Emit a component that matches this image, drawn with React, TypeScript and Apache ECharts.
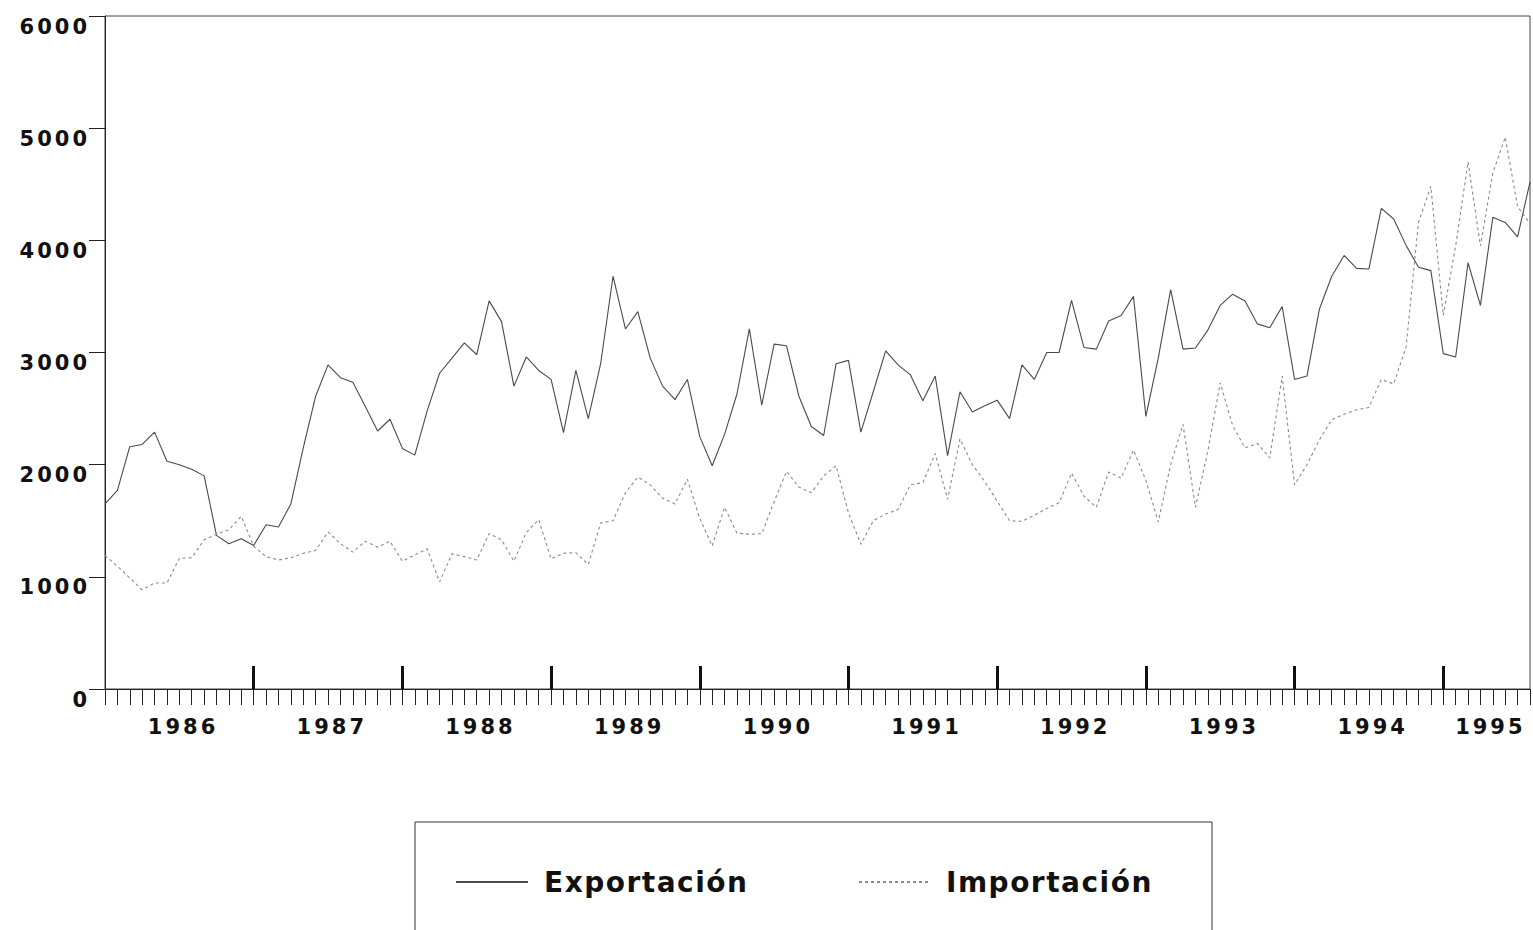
import React, { useEffect, useRef } from "react";
import * as echarts from "echarts";

// Year labels (one per calendar year, Jan 1986 .. Aug 1995 monthly data)
const years = ["1986", "1987", "1988", "1989", "1990", "1991", "1992", "1993", "1994", "1995"];

// Monthly values, Jan 1986 .. Aug 1995 (116 months)
const exportacion = [
  1650, 1770, 2160, 2180, 2290, 2030, 2000, 1960, 1900, 1370, 1295, 1340,
  1280, 1465, 1445, 1650, 2150, 2610, 2890, 2775, 2735, 2520, 2300, 2405,
  2145, 2085, 2480, 2815, 2950, 3085, 2980, 3460, 3275, 2700, 2960, 2840,
  2760, 2285, 2840, 2410, 2900, 3680, 3210, 3365, 2950, 2700, 2580, 2760,
  2250, 1990, 2270, 2630, 3210, 2530, 3075, 3060, 2610, 2340, 2260, 2900,
  2930, 2290, 2650, 3015, 2890, 2800, 2570, 2790, 2080, 2650, 2470, 2525,
  2575, 2410, 2890, 2760, 3000, 3000, 3465, 3045, 3030, 3280, 3330, 3500,
  2430, 2950, 3560, 3030, 3040, 3200, 3420, 3520, 3460, 3255, 3220, 3410,
  2760, 2790, 3385, 3680, 3865, 3750, 3745, 4285, 4190, 3955, 3760, 3730,
  2990, 2960, 3800, 3420, 4205, 4160, 4030, 4520,
];

const importacion = [
  1190, 1095, 990, 885, 945, 945, 1165, 1170, 1330, 1380, 1420, 1540,
  1272, 1180, 1150, 1170, 1210, 1235, 1400, 1295, 1220, 1317, 1265, 1317,
  1140, 1195, 1250, 955, 1205, 1180, 1150, 1385, 1330, 1140, 1395, 1510,
  1160, 1210, 1215, 1110, 1480, 1500, 1750, 1890, 1820, 1700, 1650, 1870,
  1520, 1275, 1620, 1390, 1380, 1385, 1670, 1940, 1800, 1750, 1900, 1990,
  1570, 1290, 1500, 1560, 1600, 1820, 1840, 2100, 1690, 2230, 2000, 1850,
  1675, 1500, 1495, 1550, 1610, 1660, 1925, 1720, 1620, 1935, 1880, 2130,
  1860, 1490, 2000, 2360, 1620, 2120, 2730, 2350, 2150, 2190, 2060, 2790,
  1820, 2000, 2220, 2400, 2450, 2490, 2510, 2760, 2720, 3050, 4160, 4480,
  3330, 3950, 4700, 3950, 4600, 4920, 4300, 4150,
];

const seriesNames = ["Exportación", "Importación"];

const FONT = "DejaVu Sans";

export default function App() {
  const ref = useRef<HTMLDivElement>(null);

  useEffect(() => {
    if (!ref.current) return;
    const el = ref.current;
    const chart = echarts.init(el, undefined, { renderer: "svg" });

    const n = exportacion.length;
    const lastIdx = n - 1;
    const monthTicks = exportacion.map((_, i) => i);
    const yearStarts = years.map((_, k) => k * 12).filter((v) => v > 0 && v <= lastIdx);
    const labelShift = 0.3;
    const labelPos = years.map((_, k) => {
      const s = k * 12;
      const e = Math.min(s + 12, lastIdx);
      return (s + e) / 2 + labelShift;
    });

    const axisColor = "#222";
    const labelStyle = {
      fontFamily: FONT,
      fontWeight: "bold" as const,
      fontSize: 21,
      color: "#111",
    };

    const legendText = {
      fontFamily: FONT,
      fontWeight: "bold" as const,
      fontSize: 28,
      color: "#111",
      verticalAlign: "top" as const,
      lineHeight: 18,
    };

    chart.setOption({
      animation: false,
      grid: [
        { left: 105, top: 16, right: 3, bottom: 241, show: true, borderColor: "#444", borderWidth: 1 },
        { left: 105, top: 16, right: 3, bottom: 241 },
      ],
      xAxis: [
        {
          type: "value",
          gridIndex: 0,
          min: 0,
          max: lastIdx,
          axisLine: { show: true, onZero: false, lineStyle: { color: axisColor, width: 1 } },
          axisTick: {
            show: true,
            customValues: monthTicks,
            inside: false,
            length: 16,
            lineStyle: { color: axisColor, width: 1 },
          },
          axisLabel: {
            show: true,
            customValues: labelPos,
            formatter: (v: number) => years[Math.floor(v / 12)],
            margin: 27,
            ...labelStyle,
          },
          splitLine: { show: false },
        },
        {
          type: "value",
          gridIndex: 1,
          min: 0,
          max: lastIdx,
          axisLine: { show: false },
          axisTick: {
            show: true,
            customValues: yearStarts,
            inside: true,
            length: 23,
            lineStyle: { color: "#111", width: 3 },
          },
          axisLabel: { show: false },
          splitLine: { show: false },
        },
      ],
      yAxis: [
        {
          type: "value",
          gridIndex: 0,
          min: 0,
          max: 6000,
          interval: 1000,
          axisLine: { show: true, lineStyle: { color: axisColor, width: 1 } },
          axisTick: { show: true, length: 16, lineStyle: { color: axisColor, width: 1 } },
          axisLabel: {
            margin: 15,
            verticalAlign: "top",
            formatter: (v: number) => String(v),
            ...labelStyle,
          },
          splitLine: { show: false },
        },
        { type: "value", gridIndex: 1, min: 0, max: 6000, show: false },
      ],
      legend: [
        {
          data: [seriesNames[0]],
          left: 455,
          top: 868,
          padding: 0,
          itemWidth: 72,
          itemHeight: 20,
          selectedMode: false,
          itemStyle: { opacity: 0 },
          textStyle: { ...legendText, padding: [0, 0, 0, 11] },
        },
        {
          data: [seriesNames[1]],
          left: 858,
          top: 868,
          padding: 0,
          itemWidth: 72,
          itemHeight: 20,
          selectedMode: false,
          itemStyle: { opacity: 0 },
          textStyle: { ...legendText, padding: [0, 0, 0, 10] },
        },
      ],
      graphic: [
        {
          type: "rect",
          silent: true,
          shape: { x: 415, y: 822, width: 797, height: 150 },
          style: { fill: "none", stroke: "#333", lineWidth: 1 },
        },
      ],
      series: [
        {
          name: seriesNames[0],
          type: "line",
          xAxisIndex: 0,
          yAxisIndex: 0,
          data: exportacion.map((v, i) => [i, v]),
          symbol: "none",
          lineStyle: { color: "#4a4a4a", width: 1.1 },
          itemStyle: { color: "#4a4a4a" },
        },
        {
          name: seriesNames[1],
          type: "line",
          xAxisIndex: 0,
          yAxisIndex: 0,
          data: importacion.map((v, i) => [i, v]),
          symbol: "none",
          lineStyle: { color: "#8a8a8a", width: 1.1, type: [3, 3] },
          itemStyle: { color: "#8a8a8a" },
        },
      ],
    });

    const applySpacing = () => {
      el.querySelectorAll("text").forEach((t) => {
        const s = (t.textContent || "").trim();
        if (/^\d+$/.test(s)) t.setAttribute("letter-spacing", "3");
        else if (seriesNames.includes(s)) t.setAttribute("letter-spacing", "1.5");
      });
    };
    applySpacing();
    chart.on("finished", applySpacing);

    return () => {
      chart.dispose();
    };
  }, []);

  return (
    <div
      ref={ref}
      style={{ position: "fixed", left: 0, top: 0, width: 1533, height: 930, background: "#fff" }}
    />
  );
}
